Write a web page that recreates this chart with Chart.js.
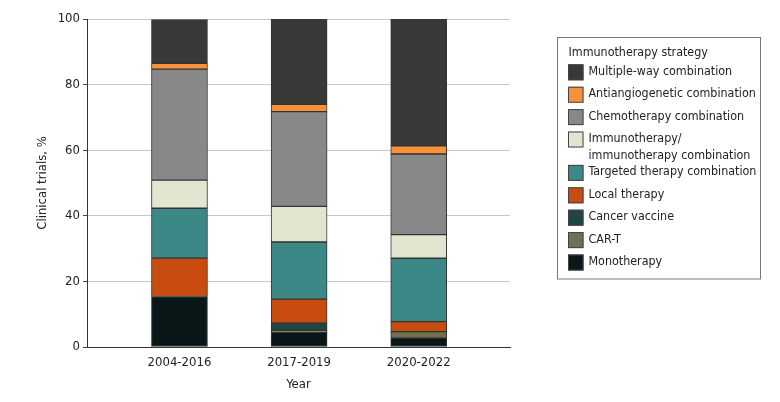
<!DOCTYPE html>
<html><head><meta charset="utf-8">
<script src="https://cdn.jsdelivr.net/npm/chart.js@4"></script>
<style>html,body{margin:0;padding:0;background:#fff}#wrap{width:780px;height:402px}</style>
</head><body><div id="wrap"><canvas id="c" width="780" height="402"></canvas></div>
<script>
const categories = ['2004-2016', '2017-2019', '2020-2022'];
const monotherapy   = [15.4, 4.45, 2.7];
const carT          = [null, 0.6, 2.0];
const cancerVaccine = [null, 2.25, null];
const localTherapy  = [11.7, 7.3, 3.05];
const targeted      = [15.2, 17.4, 19.3];
const immImm        = [8.6, 10.85, 7.2];
const chemo         = [33.8, 28.9, 24.6];
const antiangio     = [1.8, 2.25, 2.5];
const multipleWay   = [13.3, 26.0, 38.65];
const yTicks = [0, 20, 40, 60, 80, 100];
const legendTitle = 'Immunotherapy strategy';

const FONT = '"DejaVu Sans Condensed", "DejaVu Sans", sans-serif';
const series = [
  {label: 'Monotherapy', data: monotherapy, color: '#0a1719'},
  {label: 'CAR-T', data: carT, color: '#717050'},
  {label: 'Cancer vaccine', data: cancerVaccine, color: '#1d4645'},
  {label: 'Local therapy', data: localTherapy, color: '#c84c10'},
  {label: 'Targeted therapy combination', data: targeted, color: '#3b8886'},
  {label: 'Immunotherapy/\nimmunotherapy combination', data: immImm, color: '#e2e5cf'},
  {label: 'Chemotherapy combination', data: chemo, color: '#888888'},
  {label: 'Antiangiogenetic combination', data: antiangio, color: '#f7923a'},
  {label: 'Multiple-way combination', data: multipleWay, color: '#383838'}
];

const legendPlugin = {
  id: 'customLegend',
  afterDraw(chart) {
    const ctx = chart.ctx;
    ctx.save();
    ctx.strokeStyle = '#777';
    ctx.lineWidth = 1;
    ctx.strokeRect(557.5, 37.5, 203, 241.5);
    ctx.font = '12.4px ' + FONT;
    ctx.fillStyle = '#222';
    ctx.textBaseline = 'middle';
    ctx.textAlign = 'left';
    ctx.fillText(legendTitle, 568.5, 52.5);
    let y = 72.3;
    const items = chart.data.datasets.slice().reverse();
    items.forEach(ds => {
      ctx.fillStyle = ds.backgroundColor;
      ctx.fillRect(568, y - 8, 15.5, 16);
      ctx.strokeStyle = '#444';
      ctx.strokeRect(568.5, y - 7.5, 14.5, 15);
      ctx.fillStyle = '#222';
      const lines = ds.label.split('\n');
      lines.forEach((ln, i) => ctx.fillText(ln, 588.5, y - 0.8 + i * 16.7));
      y += 22.4 + (lines.length - 1) * 11;
    });
    ctx.restore();
  }
};

new Chart(document.getElementById('c'), {
  type: 'bar',
  data: {
    datasets: series.map(s => ({
      label: s.label,
      data: s.data.map((v, i) => ({x: i, y: v})),
      backgroundColor: s.color,
      borderColor: '#333',
      borderWidth: 1,
      borderSkipped: false,
      barThickness: 56
    }))
  },
  options: {
    responsive: false,
    animation: false,
    layout: {padding: {left: 35, right: 270, top: 19, bottom: 0}},
    plugins: {legend: {display: false}, tooltip: {enabled: false}},
    scales: {
      x: {
        type: 'linear',
        stacked: true,
        offset: false,
        min: -0.773,
        max: 2.763,
        afterBuildTicks: s => { s.ticks = categories.map((c, i) => ({value: i})); },
        afterFit: s => { s.height = 55; },
        ticks: {
          callback: v => categories[v],
          font: {family: FONT, size: 13},
          color: '#222',
          padding: 8,
          maxRotation: 0
        },
        grid: {display: false, drawTicks: false, offset: false},
        border: {display: true, color: '#333', width: 1},
        title: {display: true, text: 'Year', font: {family: FONT, size: 13}, color: '#222', padding: {top: 0, bottom: 10}}
      },
      y: {
        stacked: true,
        min: 0,
        max: 100,
        afterBuildTicks: s => { s.ticks = yTicks.map(v => ({value: v})); },
        afterFit: s => { s.width = 52; },
        ticks: {font: {family: FONT, size: 13}, color: '#222', padding: 3},
        grid: {color: '#c8c8c8', lineWidth: 1, tickLength: 4, tickColor: '#444'},
        border: {display: true, color: '#333', width: 1},
        title: {display: true, text: 'Clinical trials, %', font: {family: FONT, size: 13}, color: '#222', padding: 0}
      }
    }
  },
  plugins: [legendPlugin]
});
</script></body></html>
